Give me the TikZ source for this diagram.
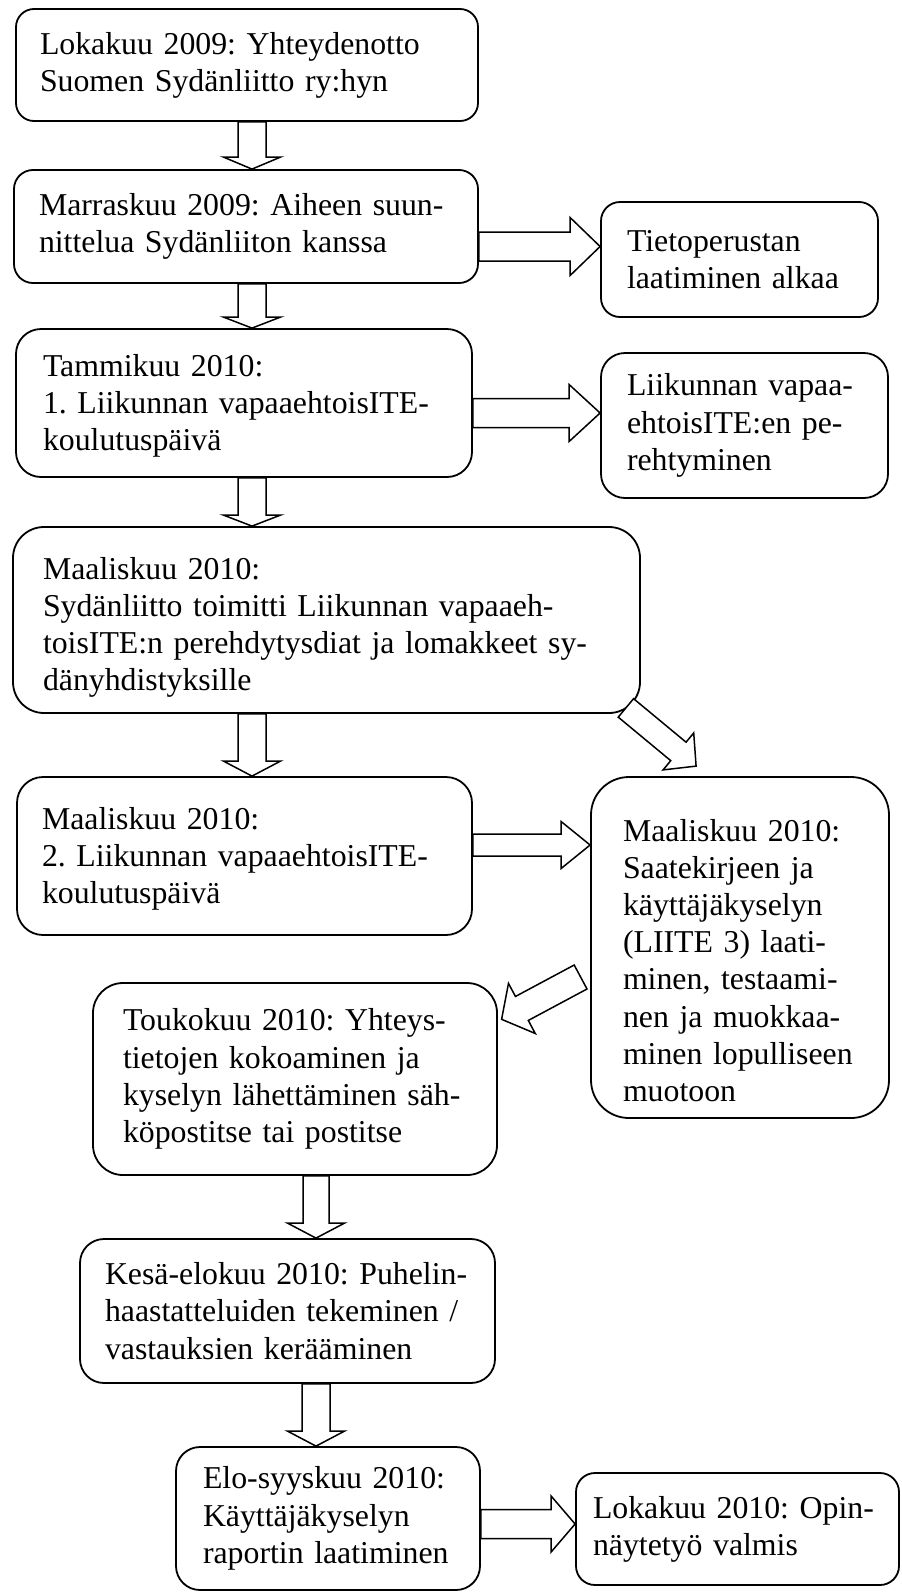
\documentclass[tikz,border=0pt]{standalone}
\usepackage{fontspec}
\setmainfont{Liberation Serif}
\usepackage{tikz}
\usetikzlibrary{calc}

\newcommand{\flowfont}{\fontsize{31.8pt}{37.2pt}\selectfont\frenchspacing}
% hollow block arrow: tail, tip, shaft half width, head half width, head length
\newcommand{\blockarrow}[5]{%
  \coordinate (ba-tail) at (#1);
  \coordinate (ba-tip) at (#2);
  \coordinate (ba-base) at ($(ba-tip)!#5!(ba-tail)$);
  \draw[hollowarr] ($(ba-tail)!#3!90:(ba-tip)$) -- ($(ba-base)!#3!-90:(ba-tail)$)
    -- ($(ba-base)!#4!-90:(ba-tail)$) -- (ba-tip) -- ($(ba-base)!#4!90:(ba-tail)$)
    -- ($(ba-base)!#3!90:(ba-tail)$) -- ($(ba-tail)!#3!-90:(ba-tip)$) -- cycle;
}

\begin{document}
\begin{tikzpicture}[
    x=1pt, y=-1pt,
    every node/.style={font=\flowfont},
    stage/.style={rectangle, draw, line width=1.8pt, rounded corners=#1, align=left, inner ysep=0pt},
    stage/.default=20pt,
    droptext/.style={execute at begin node={\rule{0pt}{#1}}},
    hollowarr/.style={draw, fill=white, line width=1.5pt, line join=miter},
]
\path[use as bounding box, fill=white] (0,0) rectangle (902,1593);

% main column
\node[stage=18pt, text width=414pt, inner xsep=24pt, minimum height=112pt] (contact) at (247,65)
  {Lokakuu 2009: Yhteydenotto\\Suomen Sydänliitto ry:hyn};
\node[stage=19pt, text width=414pt, inner xsep=25pt, minimum height=113pt] (plan) at (246,226.5)
  {Marraskuu 2009: Aiheen suun-\\nittelua Sydänliiton kanssa};
\node[stage=25pt, text width=402pt, inner xsep=27pt, minimum height=148pt, droptext=28pt] (train1) at (244,403)
  {Tammikuu 2010:\\1. Liikunnan vapaaehtoisITE-\\koulutuspäivä};
\node[stage=31pt, text width=567pt, inner xsep=30pt, minimum height=186pt, droptext=37pt] (slides) at (326.5,620)
  {Maaliskuu 2010:\\Sydänliitto toimitti Liikunnan vapaaeh-\\toisITE:n perehdytysdiat ja lomakkeet sy-\\dänyhdistyksille};
\node[stage=26pt, text width=405pt, inner xsep=25pt, minimum height=158pt, droptext=28pt] (train2) at (244.5,856)
  {Maaliskuu 2010:\\2. Liikunnan vapaaehtoisITE-\\koulutuspäivä};
\node[stage=30pt, text width=344pt, inner xsep=30pt, minimum height=192pt] (send) at (295,1079)
  {Toukokuu 2010: Yhteys-\\tietojen kokoaminen ja\\kyselyn lähettäminen säh-\\köpostitse tai postitse};
\node[stage=24pt, text width=365pt, inner xsep=25pt, minimum height=144pt] (calls) at (287.5,1311)
  {Kesä-elokuu 2010: Puhelin-\\haastatteluiden tekeminen /\\vastauksien kerääminen};
\node[stage=24pt, text width=250pt, inner xsep=27pt, minimum height=143pt] (report) at (328,1518.5)
  {Elo-syyskuu 2010:\\Käyttäjäkyselyn\\raportin laatiminen};

% side boxes
\node[stage=19pt, text width=225pt, inner xsep=26pt, minimum height=115pt] (kb) at (739.5,259.5)
  {Tietoperustan\\laatiminen alkaa};
\node[stage=24pt, text width=235pt, inner xsep=26pt, minimum height=145pt] (orient) at (744.5,425.5)
  {Liikunnan vapaa-\\ehtoisITE:en pe-\\rehtyminen};
\node[stage=38pt, text width=234pt, inner xsep=32pt, minimum height=341pt, droptext=48pt] (survey) at (740,947.5)
  {Maaliskuu 2010:\\Saatekirjeen ja\\käyttäjäkyselyn\\(LIITE 3) laati-\\minen, testaami-\\nen ja muokkaa-\\minen lopulliseen\\muotoon};
\node[stage=19pt, text width=289pt, inner xsep=17pt, minimum height=112pt] (done) at (737.5,1529)
  {Lokakuu 2010: Opin-\\näytetyö valmis};

% arrow rails
\coordinate (colA) at (252,0);
\coordinate (colB) at (316,0);
\coordinate (rowA) at (0,246.5);
\coordinate (rowB) at (0,413);
\coordinate (rowC) at (0,845);
\coordinate (rowD) at (0,1524);

% down arrows
\blockarrow{contact.south -| colA}{plan.north -| colA}{14pt}{28.5pt}{12pt}
\blockarrow{plan.south -| colA}{train1.north -| colA}{14pt}{28.5pt}{11pt}
\blockarrow{train1.south -| colA}{slides.north -| colA}{14pt}{28.5pt}{11pt}
\blockarrow{slides.south -| colA}{train2.north -| colA}{14pt}{28.5pt}{15pt}
\blockarrow{send.south -| colB}{calls.north -| colB}{13pt}{28.5pt}{15pt}
\blockarrow{calls.south -| colB}{report.north -| colB}{14pt}{28.5pt}{15pt}

% side arrows
\blockarrow{plan.east |- rowA}{kb.west |- rowA}{14.5pt}{29pt}{30pt}
\blockarrow{train1.east |- rowB}{orient.west |- rowB}{14.5pt}{28.5pt}{31pt}
\blockarrow{train2.east |- rowC}{survey.west |- rowC}{11pt}{23.5pt}{29pt}
\blockarrow{report.east |- rowD}{done.west |- rowD}{14.5pt}{28pt}{24pt}

% diagonal arrows
\blockarrow{$(slides.south east)+(-15,-6)$}{$(survey.north west)+(106,-10)$}{12pt}{24pt}{23pt}
\blockarrow{$(survey.west)+(-9.5,29.5)$}{$(send.east)+(3.7,-59.7)$}{13.6pt}{28.4pt}{23pt}

\end{tikzpicture}
\end{document}
